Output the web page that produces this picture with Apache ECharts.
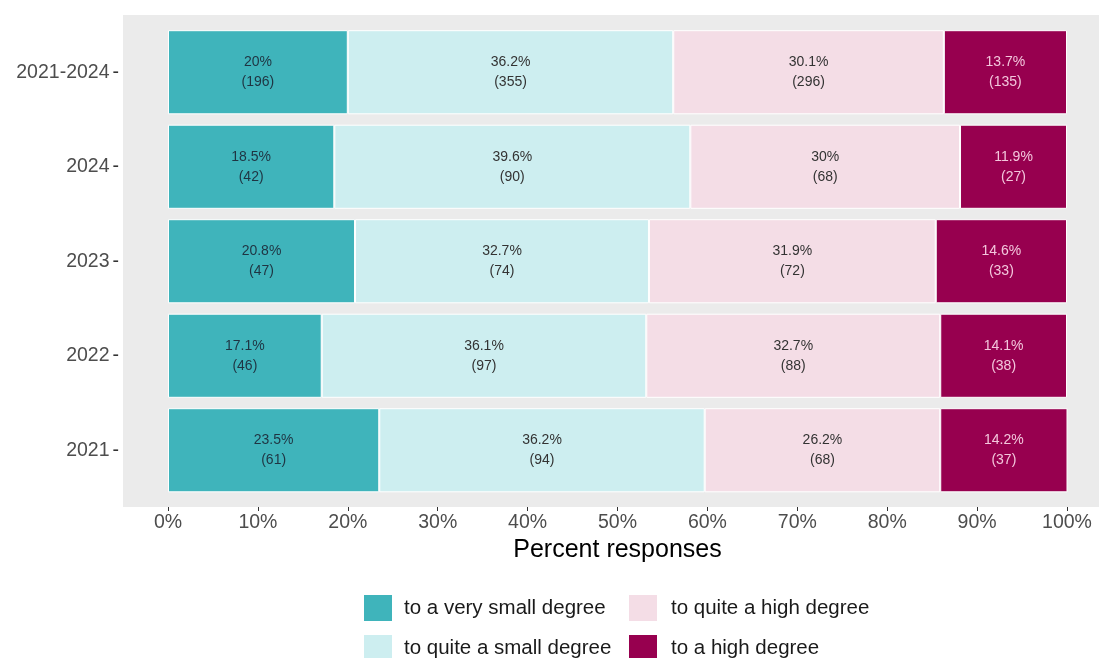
<!DOCTYPE html>
<html>
<head>
<meta charset="utf-8">
<script src="https://cdn.jsdelivr.net/npm/echarts@6/dist/echarts.min.js"></script>
<style>
  html, body { margin: 0; padding: 0; background: #ffffff; }
  #chart { width: 1099px; height: 658px; }
</style>
</head>
<body>
<div id="chart"></div>
<script>
// Survey years, top to bottom
const categories = ['2021-2024', '2024', '2023', '2022', '2021'];

// Share of responses (%) and counts per answer level
const verySmallPct = [20, 18.5, 20.8, 17.1, 23.5];
const verySmallN   = [196, 42, 47, 46, 61];
const quiteSmallPct = [36.2, 39.6, 32.7, 36.1, 36.2];
const quiteSmallN   = [355, 90, 74, 97, 94];
const quiteHighPct = [30.1, 30, 31.9, 32.7, 26.2];
const quiteHighN   = [296, 68, 72, 88, 68];
const highPct = [13.7, 11.9, 14.6, 14.1, 14.2];
const highN   = [135, 27, 33, 38, 37];

const levelNames = ['to a very small degree', 'to quite a small degree', 'to quite a high degree', 'to a high degree'];
const xTicks = [0, 10, 20, 30, 40, 50, 60, 70, 80, 90, 100];

const FONT = '"Liberation Sans", Arial, Helvetica, sans-serif';

function makeSeries(name, pct, counts, color, labelColor) {
  return {
    name: name,
    type: 'bar',
    stack: 'total',
    barWidth: '89%',
    data: pct,
    itemStyle: { color: color, borderColor: '#ffffff', borderWidth: 1 },
    label: {
      show: true,
      position: 'inside',
      fontFamily: FONT,
      fontSize: 14,
      lineHeight: 20,
      color: labelColor,
      formatter: function (p) { return String(p.value) + '%\n(' + counts[p.dataIndex] + ')'; }
    },
    emphasis: { disabled: true }
  };
}

// one legend entry per block so the keys form a 2 x 2 column-major grid
function legendEntry(name, left, top, textPad) {
  return {
    orient: 'horizontal',
    left: left, top: top,
    padding: 0,
    itemWidth: 30, itemHeight: 28,
    icon: 'rect',
    data: [name],
    textStyle: { fontFamily: FONT, fontSize: 20.5, color: '#1a1a1a', padding: [0, 0, 0, textPad] },
    selectedMode: false
  };
}

const chart = echarts.init(document.getElementById('chart'), null, { renderer: 'canvas' });

chart.setOption({
  animation: false,
  backgroundColor: '#ffffff',
  textStyle: { fontFamily: FONT },
  graphic: [{
    type: 'rect',
    z: -10,
    silent: true,
    shape: { x: 123, y: 15, width: 990, height: 492 },
    style: { fill: '#ebebeb' }
  }],
  grid: { left: 168, top: 25, width: 899, height: 472.5, containLabel: false },
  xAxis: {
    type: 'value',
    min: xTicks[0],
    max: xTicks[xTicks.length - 1],
    interval: 10,
    offset: 9.5,
    name: 'Percent responses',
    nameLocation: 'middle',
    nameGap: 29,
    nameTextStyle: { fontFamily: FONT, fontSize: 25, color: '#000000' },
    axisLine: { show: false },
    axisTick: { show: true, length: 4, lineStyle: { color: '#333333', width: 1 } },
    axisLabel: { margin: 6, fontFamily: FONT, fontSize: 19.5, color: '#4d4d4d', formatter: '{value}%' },
    splitLine: { show: false }
  },
  yAxis: {
    type: 'category',
    data: categories,
    inverse: true,
    offset: 45,
    axisLine: { show: false },
    axisTick: { show: false },
    axisLabel: {
      margin: 4,
      fontFamily: FONT,
      fontSize: 19.5,
      color: '#4d4d4d',
      formatter: function (v) { return v + '{k|-}'; },
      rich: { k: { fontFamily: FONT, fontSize: 19.5, color: '#333333', padding: [0, 0, 0, 3] } }
    },
    splitLine: { show: false }
  },
  legend: [
    legendEntry(levelNames[0], 362, 593, 6),
    legendEntry(levelNames[1], 362, 633, 6),
    legendEntry(levelNames[2], 627, 593, 8),
    legendEntry(levelNames[3], 627, 633, 8)
  ],
  series: [
    makeSeries(levelNames[0], verySmallPct, verySmallN, '#3fb4bb', '#1f3442'),
    makeSeries(levelNames[1], quiteSmallPct, quiteSmallN, '#cdeef0', '#333333'),
    makeSeries(levelNames[2], quiteHighPct, quiteHighN, '#f4dde6', '#333333'),
    makeSeries(levelNames[3], highPct, highN, '#97004f', '#f3c6dc')
  ]
});
</script>
</body>
</html>
